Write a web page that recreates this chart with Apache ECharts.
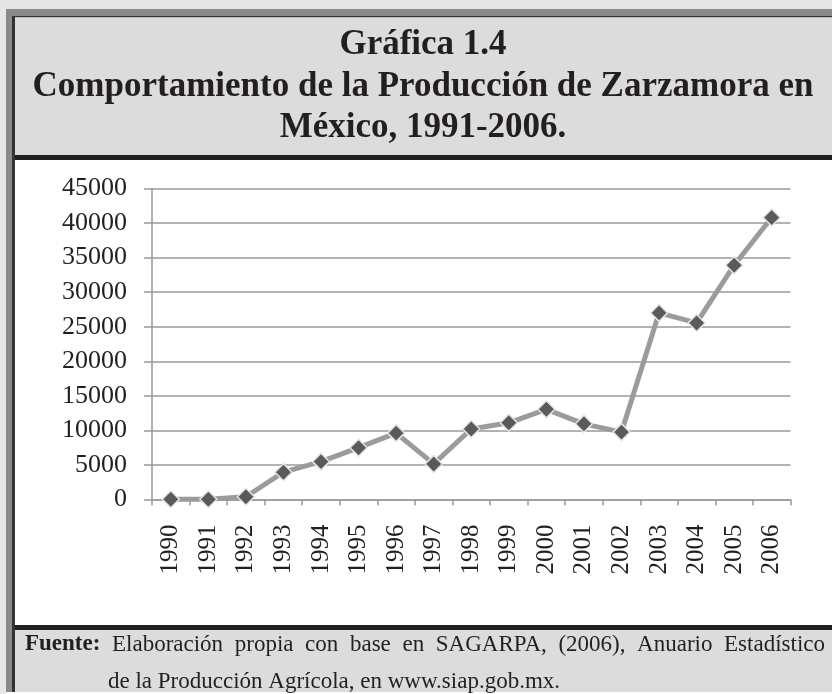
<!DOCTYPE html>
<html>
<head>
<meta charset="utf-8">
<script src="https://cdn.jsdelivr.net/npm/echarts@6/dist/echarts.min.js"></script>
<style>
  html, body { margin: 0; padding: 0; background: #fff; }
  #main { width: 832px; height: 694px; }
</style>
</head>
<body>
<div id="main"></div>
<script>
// datos de la grafica
var years = ['1990', '1991', '1992', '1993', '1994', '1995', '1996', '1997', '1998',
             '1999', '2000', '2001', '2002', '2003', '2004', '2005', '2006'];
var produccion = [30, 30, 400, 3950, 5480, 7500, 9600, 5150, 10200,
                  11100, 13050, 10950, 9750, 27000, 25550, 33900, 40800];
var titleLines = ['Gráfica 1.4', 'Comportamiento de la Producción de Zarzamora en', 'México, 1991-2006.'];
var fuenteLabel = 'Fuente:';
var fuenteLine1 = 'Elaboración propia con base en SAGARPA, (2006), Anuario Estadístico';
var fuenteLine2 = 'de la Producción Agrícola, en www.siap.gob.mx.';

var serif = '"Liberation Serif", "Times New Roman", serif';
var chart = echarts.init(document.getElementById('main'));

// medir texto para justificar la linea de la fuente
var ctx = document.createElement('canvas').getContext('2d');
function measure(txt, font) {
    ctx.font = font;
    return ctx.measureText(txt).width;
}

var graphics = [
    // marco
    {type: 'rect', shape: {x: 0, y: 0, width: 832, height: 9}, style: {fill: '#e6e6e6'}},
    {type: 'rect', shape: {x: 0, y: 0, width: 6, height: 694}, style: {fill: '#e6e6e6'}},
    {type: 'rect', shape: {x: 6, y: 9, width: 826, height: 7}, style: {fill: '#8a8a8a'}},
    {type: 'rect', shape: {x: 6, y: 9, width: 6, height: 683}, style: {fill: '#8a8a8a'}},
    {type: 'rect', shape: {x: 12, y: 16, width: 820, height: 1.5}, style: {fill: '#333'}},
    {type: 'rect', shape: {x: 12, y: 16, width: 3, height: 676}, style: {fill: '#333'}},
    {type: 'rect', shape: {x: 15, y: 17.5, width: 817, height: 137.5}, style: {fill: '#dcdcdd'}},
    {type: 'rect', shape: {x: 15, y: 155, width: 817, height: 5}, style: {fill: '#231f20'}},
    {type: 'rect', shape: {x: 15, y: 625, width: 817, height: 5}, style: {fill: '#231f20'}},
    {type: 'rect', shape: {x: 15, y: 630, width: 817, height: 62}, style: {fill: '#dcdcdd'}}
];

// titulo
var titleY = [45, 87, 128];
titleLines.forEach(function (t, i) {
    graphics.push({
        type: 'text', x: 423, y: titleY[i],
        style: {text: t, font: 'bold 35px ' + serif, fill: '#231f20', textAlign: 'center', textVerticalAlign: 'middle'}
    });
});

// fuente, linea 1 justificada
var boldFont = 'bold 23px ' + serif, regFont = '23px ' + serif;
var words = fuenteLine1.split(' ');
var widths = [measure(fuenteLabel, boldFont)].concat(words.map(function (w) { return measure(w, regFont); }));
var total = widths.reduce(function (a, b) { return a + b; }, 0);
var gap = (825 - 25 - total) / (widths.length - 1);
var x = 25;
widths.forEach(function (w, i) {
    var txt = i == 0 ? fuenteLabel : words[i - 1];
    graphics.push({
        type: 'text', x: x, y: 656,
        style: {text: txt, font: i == 0 ? boldFont : regFont, fill: '#231f20', textAlign: 'left', textVerticalAlign: 'bottom'}
    });
    x += w + gap;
});
graphics.push({
    type: 'text', x: 108, y: 693,
    style: {text: fuenteLine2, font: regFont, fill: '#231f20', textAlign: 'left', textVerticalAlign: 'bottom'}
});

var option = {
    animation: false,
    backgroundColor: '#fff',
    grid: {
        left: 152,
        right: 41.5,
        top: 188.5,
        height: 311
    },
    xAxis: {
        type: 'category',
        data: years,
        boundaryGap: true,
        axisLine: {lineStyle: {color: '#9a9a9a', width: 1.5}},
        axisTick: {show: true, length: 6, lineStyle: {color: '#9a9a9a', width: 1.5}},
        axisLabel: {
            rotate: 90, margin: 25, interval: 0,
            fontFamily: serif, fontSize: 25, color: '#231f20'
        },
        splitLine: {show: false}
    },
    yAxis: {
        type: 'value',
        min: 0,
        max: 45000,
        interval: 5000,
        axisLine: {show: true, lineStyle: {color: '#9a9a9a', width: 1.5}},
        axisTick: {show: true, length: 8, lineStyle: {color: '#9a9a9a', width: 1.5}},
        axisLabel: {
            margin: 25, fontFamily: serif, fontSize: 26, color: '#231f20',
            formatter: function (v) { return String(v); }
        },
        splitLine: {lineStyle: {color: '#9a9a9a', width: 1.5}}
    },
    series: [{
        type: 'line',
        data: produccion,
        symbol: 'diamond',
        symbolSize: 17,
        showSymbol: true,
        lineStyle: {color: '#9b9b9b', width: 5},
        itemStyle: {color: '#5a5a5a', borderColor: '#e4e4e4', borderWidth: 1.5}
    }],
    graphic: graphics
};
chart.setOption(option);
</script>
</body>
</html>
